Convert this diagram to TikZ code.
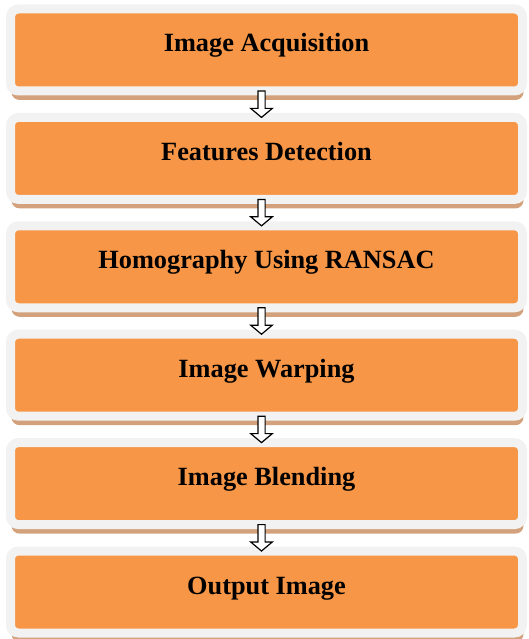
\documentclass[tikz,border=0pt]{standalone}
\usepackage{fontspec}
\setmainfont{Liberation Serif}
\usepackage{xcolor}
\usetikzlibrary{positioning, calc, shadows}

\definecolor{stepOrange}{HTML}{F79646}
\definecolor{stepRing}{HTML}{F2F2F2}
\definecolor{stepShadow}{HTML}{D3A27C}

\tikzset{
  stepbox/.style={
    rectangle, rounded corners=8pt,
    fill=stepOrange, draw=stepRing, line width=9pt,
    minimum width=512pt, minimum height=82pt, outer sep=0pt,
    text height=17pt, text depth=13pt,
    font=\fontsize{26.3}{30}\selectfont\bfseries,
    drop shadow={shadow xshift=1pt, shadow yshift=-9pt,
                 fill=stepShadow, opacity=1},
  },
  flowarrow/.style={draw=black, fill=white, line width=1.2pt, line join=miter},
}

\begin{document}
\begin{tikzpicture}[node distance=26.4pt]

\useasboundingbox (0,0) rectangle (528pt,-639pt);

% ---- 1. the six steps, one under the other ----
\node[stepbox] (acq) at (266.5pt,-50pt) {Image Acquisition};
\node[stepbox, below=of acq]  (feat)  {Features Detection};
\node[stepbox, below=of feat] (homo)  {Homography Using RANSAC};
\node[stepbox, below=of homo] (warp)  {Image Warping};
\node[stepbox, below=of warp] (blend) {Image Blending};
\node[stepbox, below=of blend] (out)  {Output Image};

% ---- 2. hollow block arrows between the steps ----
\pgfmathsetmacro{\ax}{-5}      % arrow sits a bit left of the centre
\pgfmathsetmacro{\sw}{3.6}     % half shaft width
\pgfmathsetmacro{\hw}{10.8}    % half head width
\pgfmathsetmacro{\hl}{9}       % head length

\foreach \a/\b in {acq/feat, feat/homo, homo/warp, warp/blend, blend/out} {
  \coordinate (arTop) at ($(\a.south)+(\ax pt,0)$);
  \coordinate (arTip) at ($(\b.north)+(\ax pt,0)$);
  \draw[flowarrow]
    ($(arTop)+(-\sw pt,0)$) -- ($(arTop)+(\sw pt,0)$)
    -- ($(arTip)+(\sw pt,\hl pt)$) -- ($(arTip)+(\hw pt,\hl pt)$)
    -- (arTip)
    -- ($(arTip)+(-\hw pt,\hl pt)$) -- ($(arTip)+(-\sw pt,\hl pt)$)
    -- cycle;
}

\end{tikzpicture}
\end{document}
